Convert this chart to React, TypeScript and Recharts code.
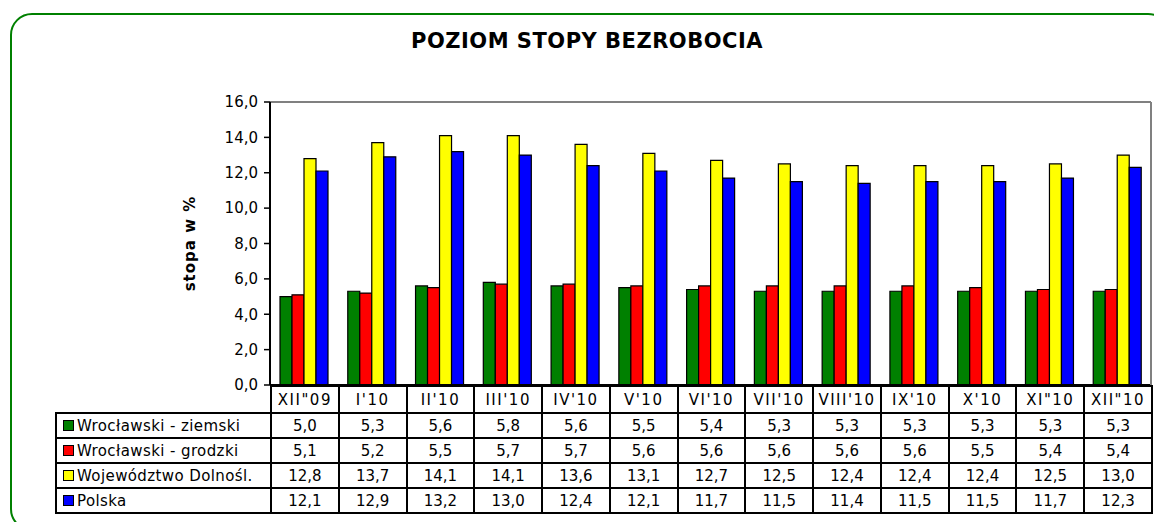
import { BarChart, Bar, XAxis, YAxis, CartesianGrid, ReferenceLine } from 'recharts'

const months = ['XII"09', "I'10", "II'10", "III'10", "IV'10", "V'10", "VI'10", "VII'10", "VIII'10", "IX'10", "X'10", 'XI"10', 'XII"10']
const ziemski = [5.0, 5.3, 5.6, 5.8, 5.6, 5.5, 5.4, 5.3, 5.3, 5.3, 5.3, 5.3, 5.3]
const grodzki = [5.1, 5.2, 5.5, 5.7, 5.7, 5.6, 5.6, 5.6, 5.6, 5.6, 5.5, 5.4, 5.4]
const dolnoslaskie = [12.8, 13.7, 14.1, 14.1, 13.6, 13.1, 12.7, 12.5, 12.4, 12.4, 12.4, 12.5, 13.0]
const polska = [12.1, 12.9, 13.2, 13.0, 12.4, 12.1, 11.7, 11.5, 11.4, 11.5, 11.5, 11.7, 12.3]
const yTicks = [0, 2, 4, 6, 8, 10, 12, 14, 16]

const series = [
  { key: 'ziemski', name: 'Wrocławski - ziemski', color: '#008000', values: ziemski },
  { key: 'grodzki', name: 'Wrocławski - grodzki', color: '#FF0000', values: grodzki },
  { key: 'dolno', name: 'Województwo Dolnośl.', color: '#FFFF00', values: dolnoslaskie },
  { key: 'polska', name: 'Polska', color: '#0000FF', values: polska },
]

const data = months.map((m, i) => ({
  month: m,
  ziemski: ziemski[i],
  grodzki: grodzki[i],
  dolno: dolnoslaskie[i],
  polska: polska[i],
}))

const fmt = (v: number) => v.toFixed(1).replace('.', ',')

const FONT = '"DejaVu Sans", Verdana, sans-serif'
const PLOT_LEFT = 270
const PLOT_RIGHT = 1151
const colW = (PLOT_RIGHT - PLOT_LEFT) / months.length
const line = '2px solid #000'

export default function App() {
  return (
    <div style={{ position: 'absolute', left: 0, top: 0, width: 1154, height: 522, background: '#fff', overflow: 'hidden', fontFamily: FONT }}>
      {/* ramka */}
      <div style={{ position: 'absolute', left: 10, top: 13, width: 1160, height: 518, border: '2px solid #008000', borderRadius: 22, boxSizing: 'border-box' }} />

      <div style={{ position: 'absolute', left: 0, width: 1174, top: 29, textAlign: 'center', fontSize: 21, fontWeight: 'bold', letterSpacing: 0.5, color: '#000' }}>
        POZIOM STOPY BEZROBOCIA
      </div>

      <div style={{ position: 'absolute', left: 0, top: 0 }}>
        <BarChart
          width={1154}
          height={400}
          data={data}
          margin={{ top: 102, right: 2, bottom: 14, left: 210 }}
          barCategoryGap={10}
          barGap={0}
        >
          <CartesianGrid vertical={false} stroke="#000" strokeWidth={1.5} />
          <XAxis dataKey="month" tick={false} tickLine={false} height={1} axisLine={{ stroke: '#000', strokeWidth: 2 }} />
          <YAxis
            yAxisId="l"
            width={60}
            domain={[0, 16]}
            ticks={yTicks}
            interval={0}
            tickFormatter={fmt}
            tickSize={6}
            tickMargin={6}
            tick={{ fill: '#000', fontSize: 15, fontFamily: FONT }}
            tickLine={{ stroke: '#000', strokeWidth: 1.5 }}
            axisLine={{ stroke: '#000', strokeWidth: 2 }}
            label={{
              content: (props: any) => {
                const vb = props.viewBox
                const cx = vb.x - 20
                const cy = vb.y + vb.height / 2
                return (
                  <text x={cx} y={cy} transform={`rotate(-90 ${cx} ${cy})`} textAnchor="middle" dominantBaseline="central" fontSize={15} fontWeight="bold" letterSpacing={1} fontFamily={FONT} fill="#000">
                    stopa w %
                  </text>
                )
              },
            }}
          />
          <YAxis yAxisId="r" orientation="right" width={1} domain={[0, 16]} tick={false} tickLine={false} axisLine={{ stroke: '#808080', strokeWidth: 2 }} />
          <ReferenceLine yAxisId="l" y={16} stroke="#808080" strokeWidth={2} />
          {series.map((s) => (
            <Bar key={s.key} yAxisId="l" dataKey={s.key} name={s.name} fill={s.color} stroke="#000" strokeWidth={1.2} isAnimationActive={false} />
          ))}
        </BarChart>
      </div>

      {/* tabela danych */}
      <table
        style={{
          position: 'absolute',
          left: 55,
          top: 385,
          borderCollapse: 'collapse',
          tableLayout: 'fixed',
          width: PLOT_RIGHT - 55,
          fontSize: 15,
          fontFamily: FONT,
          color: '#000',
        }}
      >
        <colgroup>
          <col style={{ width: PLOT_LEFT - 55 }} />
          {months.map((m) => (
            <col key={m} style={{ width: colW }} />
          ))}
        </colgroup>
        <tbody>
          <tr style={{ height: 27 }}>
            <td style={{ padding: 0 }} />
            {months.map((m) => (
              <td key={m} style={{ border: line, textAlign: 'center', padding: 0, letterSpacing: 1.5, whiteSpace: 'nowrap' }}>
                {m}
              </td>
            ))}
          </tr>
          {series.map((s) => (
            <tr key={s.key} style={{ height: 25 }}>
              <td style={{ border: line, padding: '0 0 0 6px', whiteSpace: 'nowrap', letterSpacing: 0.4 }}>
                <span style={{ display: 'inline-block', width: 9, height: 9, background: s.color, border: '1.5px solid #000', marginRight: 3, verticalAlign: 'middle', position: 'relative', top: -1 }} />
                {s.name}
              </td>
              {s.values.map((v, i) => (
                <td key={i} style={{ border: line, textAlign: 'center', padding: 0 }}>
                  {fmt(v)}
                </td>
              ))}
            </tr>
          ))}
        </tbody>
      </table>
    </div>
  )
}
